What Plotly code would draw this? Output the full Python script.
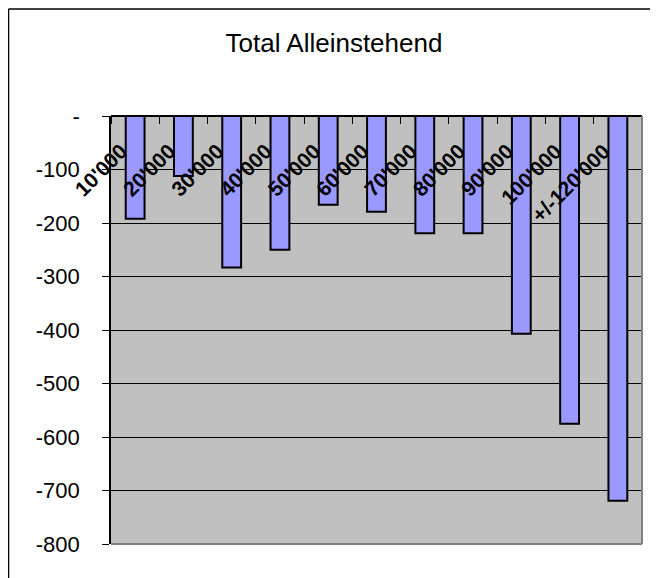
import plotly.graph_objects as go

categories = ["10'000", "20'000", "30'000", "40'000", "50'000", "60'000",
              "70'000", "80'000", "90'000", "100'000", "+/-120'000"]
values = [-192, -112, -283, -250, -166, -179, -219, -219, -407, -575, -719]
y_tickvals = [0, -100, -200, -300, -400, -500, -600, -700, -800]
y_ticktext = ["-", "-100", "-200", "-300", "-400", "-500", "-600", "-700", "-800"]
title_text = "Total Alleinstehend"

FONT = "Liberation Sans, Arial, sans-serif"

W, H = 650, 570
L, R, T, B = 103, 16, 108, 34
PW, PH = W - L - R, H - T - B

fig = go.Figure()
fig.add_trace(go.Bar(
    x=categories, y=values, width=0.39,
    marker=dict(color="#9999FF", line=dict(color="black", width=2)),
))

fig.update_layout(
    width=W, height=H,
    margin=dict(l=L, r=R, t=T, b=B, pad=0, autoexpand=False),
    paper_bgcolor="white", plot_bgcolor="#C0C0C0",
    showlegend=False,
    font=dict(family=FONT, color="black"),
    title=dict(text=title_text, x=326 / W, xanchor="center", y=1 - 35 / H,
               yanchor="middle", font=dict(size=26, family=FONT, color="black")),
    xaxis=dict(
        type="category", anchor="free", position=1, side="bottom",
        automargin=False,
        showline=True, linecolor="black", linewidth=1.5,
        ticks="outside", ticklen=7, tickcolor="black", tickwidth=1,
        tickson="boundaries", showgrid=False,
        tickangle=-45, tickfont=dict(size=21, family=FONT, color="black", weight="bold"),
        ticklabelshift=-14, ticklabelstandoff=14,
    ),
    yaxis=dict(
        range=[-800, 0], tickvals=y_tickvals, ticktext=y_ticktext,
        automargin=False,
        showline=True, linecolor="black", linewidth=1.5,
        ticks="outside", ticklen=7, tickcolor="black",
        showgrid=True, gridcolor="black", gridwidth=1,
        zeroline=False,
        tickfont=dict(size=22, family=FONT, color="black"),
        ticklabelstandoff=18,
    ),
    shapes=[
        dict(type="line", xref="paper", yref="paper", x0=1, x1=1, y0=0, y1=1,
             line=dict(color="#808080", width=2)),
        dict(type="line", xref="paper", yref="paper", x0=0, x1=1, y0=0, y1=0,
             line=dict(color="#808080", width=2)),
        # outer chart frame (left and top)
        dict(type="line", xref="paper", yref="paper", x0=-(L - 0.5) / PW, x1=-(L - 0.5) / PW,
             y0=-B / PH, y1=1 + (T - 1) / PH, line=dict(color="black", width=1.5)),
        dict(type="line", xref="paper", yref="paper", x0=-(L - 0.5) / PW, x1=1 + R / PW,
             y0=1 + (T - 1) / PH, y1=1 + (T - 1) / PH, line=dict(color="black", width=1.5)),
    ],
)

fig.write_html("out.html")
